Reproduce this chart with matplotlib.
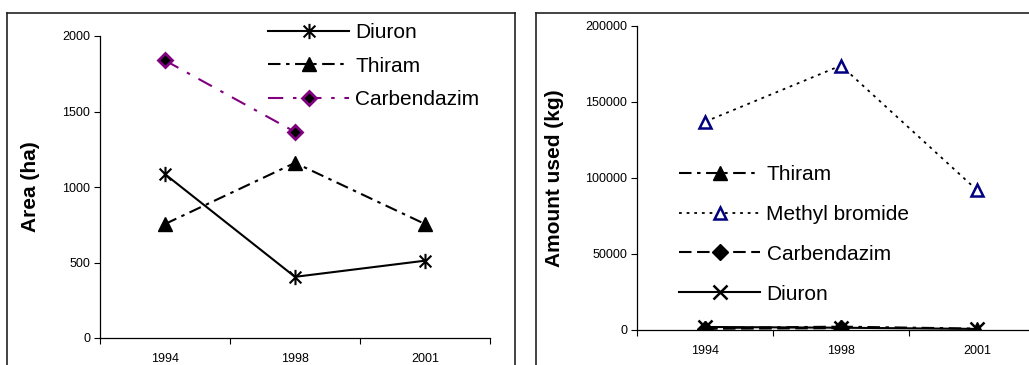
import matplotlib
matplotlib.use("Agg")
import matplotlib.pyplot as plt
import numpy as np
from matplotlib.path import Path
from matplotlib.lines import Line2D

plt.rcParams['font.family'] = ['Liberation Sans', 'DejaVu Sans']
plt.rcParams['lines.scale_dashes'] = False

years = ['1994', '1998', '2001']

# treated area (ha)
area_diuron = [1085, 405, 512]
area_thiram = [755, 1160, 755]
area_carbendazim = [1838, 1365, np.nan]

# amount used (kg)
kg_thiram = [1300, 2200, 900]
kg_methyl_bromide = [137000, 174000, 92000]
kg_carbendazim = [800, 1200, np.nan]
kg_diuron = [2000, 1500, 700]

# Excel-style star marker: an x with a vertical bar through it
star = Path([(-1, -1), (1, 1), (-1, 1), (1, -1), (0, -1.3), (0, 1.3)],
            [Path.MOVETO, Path.LINETO, Path.MOVETO, Path.LINETO, Path.MOVETO, Path.LINETO])

W, H = 1029, 365
fig = plt.figure(figsize=(W / 100, H / 100), dpi=100)


def fx(px):
    return px / W


def fy(py):
    return 1 - py / H


# panel frames
for x0, x1 in [(7, 515), (536, 1040)]:
    fig.add_artist(Line2D([fx(x0), fx(x1)], [fy(13), fy(13)], color='#222222', lw=1.2))
    fig.add_artist(Line2D([fx(x0), fx(x0)], [fy(13), fy(370)], color='#222222', lw=1.2))
    fig.add_artist(Line2D([fx(x1), fx(x1)], [fy(13), fy(370)], color='#222222', lw=1.2))


def setup_axes(ax, ymax, ystep):
    x = np.arange(len(years))
    ax.set_xlim(-0.5, len(years) - 0.5)
    ax.set_ylim(0, ymax)
    ax.set_yticks(np.arange(0, ymax + 1, ystep))
    ax.set_xticks(np.arange(-0.5, len(years), 1.0))
    ax.set_xticklabels([])
    ax.set_xticks(x, minor=True)
    ax.set_xticklabels(years, minor=True)
    ax.tick_params(axis='x', which='minor', length=0, pad=11, labelsize=9)
    ax.tick_params(axis='x', which='major', direction='out', length=4, width=0.8)
    ax.tick_params(axis='y', direction='out', length=4, width=0.8, labelsize=9, pad=3)
    for s in ['top', 'right']:
        ax.spines[s].set_visible(False)
    for s in ['left', 'bottom']:
        ax.spines[s].set_linewidth(0.9)
    ax.patch.set_alpha(0)
    return x


# left: area
ax1 = fig.add_axes([fx(100), fy(338), fx(490 - 100), (338 - 36) / H])
x = setup_axes(ax1, 2000, 500)
ax1.plot(x, area_diuron, color='black', lw=1.5, marker=star, ms=11, mew=1.5,
         label='Diuron')
ax1.plot(x, area_thiram, color='black', lw=1.5, dashes=(9, 4, 2.5, 4),
         marker='^', ms=10, mfc='black', label='Thiram')
ax1.plot(x, area_carbendazim, color='#800080', lw=1.5, dashes=(11, 7, 2.5, 7),
         marker='D', ms=7, mfc='black', mec='#800080', mew=2, label='Carbendazim')
ax1.set_ylabel('Area (ha)', fontsize=15, fontweight='bold', labelpad=16)
ax1.legend(loc='upper left', bbox_to_anchor=(fx(268), fy(23)), bbox_transform=fig.transFigure,
           frameon=False, fontsize=15, handlelength=3.9, handletextpad=0.3,
           labelspacing=0.7, borderpad=0, borderaxespad=0)

# right: amount used
ax2 = fig.add_axes([fx(637), fy(330), fx(1045 - 637), (330 - 26) / H])
x = setup_axes(ax2, 200000, 50000)
ax2.plot(x, kg_thiram, color='black', lw=1.5, dashes=(9, 4, 2.5, 4),
         marker='^', ms=10, mfc='black', label='Thiram')
ax2.plot(x, kg_methyl_bromide, color='black', lw=1.3, dashes=(2, 3.5),
         marker='^', ms=9, mfc='white', mec='#000080', mew=1.8, label='Methyl bromide')
ax2.plot(x, kg_carbendazim, color='black', lw=1.5, dashes=(9, 4),
         marker='D', ms=8, mfc='black', mec='black', label='Carbendazim')
ax2.plot(x, kg_diuron, color='black', lw=1.5, marker='x', ms=10, mew=1.8,
         label='Diuron')
ax2.set_ylabel('Amount used (kg)', fontsize=15, fontweight='bold', labelpad=15)
ax2.legend(loc='upper left', bbox_to_anchor=(fx(679), fy(165)), bbox_transform=fig.transFigure,
           frameon=False, fontsize=15, handlelength=3.9, handletextpad=0.3,
           labelspacing=1.0, borderpad=0, borderaxespad=0)

fig.savefig('out.png', dpi=100)
